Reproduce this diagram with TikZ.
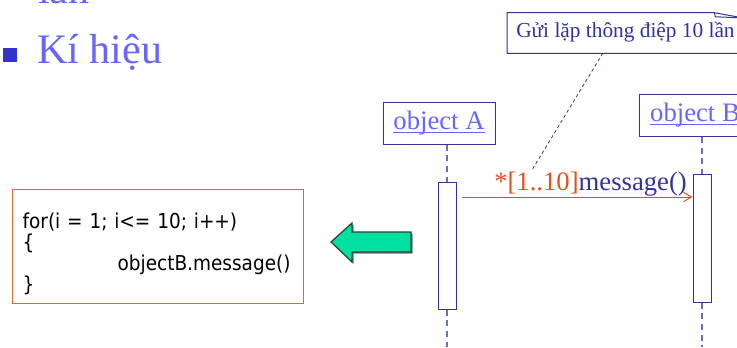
\documentclass[tikz,border=0pt]{standalone}
\usepackage{fontspec}
\setmainfont{Liberation Serif}
\newfontfamily\codefont[FakeStretch=0.9]{DejaVu Sans}
\usetikzlibrary{arrows.meta,positioning,calc,shadows}
\definecolor{headblue}{RGB}{102,102,255}
\definecolor{bulletblue}{RGB}{51,51,204}
\definecolor{noteblue}{RGB}{51,51,153}
\definecolor{lifegray}{RGB}{110,110,190}
\definecolor{msgred}{RGB}{224,80,32}
\definecolor{codered}{RGB}{224,100,64}
\definecolor{arrowgreen}{RGB}{0,224,160}
\definecolor{arrowdark}{RGB}{30,70,55}
\newcommand\objname[1]{\setbox0\hbox{#1}\rlap{\rule[-2.6pt]{\wd0}{0.9pt}}#1}

\begin{document}
\begin{tikzpicture}[
        x=0.75pt, y=-0.75pt,
        bulletsq/.style={rectangle, fill=bulletblue, minimum size=10.5pt, inner sep=0pt},
        title/.style={text=headblue, font=\fontsize{31.5}{36}\selectfont, inner sep=0pt},
        notetext/.style={text=noteblue, font=\fontsize{16}{19}\selectfont, inner xsep=6.75pt, inner ysep=0pt, text height=18pt, text depth=12pt},
        noteline/.style={draw=noteblue, line width=0.75pt},
        notelink/.style={draw=noteblue, line width=0.6pt, dash pattern=on 2.5pt off 2pt},
        objbox/.style={rectangle, draw=noteblue, line width=0.75pt, fill=white, minimum width=84pt, minimum height=31.5pt, text=headblue, font=\fontsize{20}{24}\selectfont},
        activation/.style={rectangle, draw=noteblue, line width=0.75pt, fill=white, minimum width=13.5pt, inner sep=0pt},
        lifeline/.style={draw=lifegray, line width=1pt, dash pattern=on 4.5pt off 3.5pt},
        msg/.style={-{Straight Barb[length=6pt,width=7pt]}, draw=msgred, line width=0.75pt},
        msglabel/.style={font=\fontsize{20}{24}\selectfont, inner sep=0pt},
        codebox/.style={rectangle, draw=codered, line width=0.9pt, fill=white, text width=203.25pt, align=left, inner xsep=7.5pt, inner ysep=3pt, font=\codefont\fontsize{15.4}{15.75}\selectfont},
        bigarrow/.style={draw=arrowdark, line width=0.9pt, fill=arrowgreen, drop shadow={shadow xshift=1.2pt, shadow yshift=-1.2pt, fill=black!55, opacity=1}}
    ]
    \useasboundingbox[fill=white] (0,0) rectangle (737,347);

    \node[title, anchor=base west] (prevline) at (38,3) {lần};
    \node[bulletsq] (bullet) at (10,55) {};
    \node[title, anchor=base west] (kihieu) at (37,63) {Kí hiệu};

    \node[notetext, anchor=base west] (note) at (507,37) {Gửi lặp thông điệp 10 lần};
    \draw[noteline] (note.north west) -- ([xshift=-22pt]note.north east) -- ([yshift=-4pt]note.north east) -- (note.south east) -- (note.south west) -- cycle;
    \draw[noteline] ([xshift=-22pt]note.north east) -- ([xshift=-21.5pt,yshift=-3pt]note.north east) -- ([yshift=-4pt]note.north east);

    \node[objbox] (objA) at (439,123) {\objname{object A}};
    \node[objbox] (objB) at (695,115.5) {\objname{object B}};

    \node[activation, minimum height=95.25pt] (actA) at (447,245.5) {};
    \node[activation, minimum height=96pt] (actB) at (702,238) {};
    \coordinate (endA) at (447,347);
    \coordinate (endB) at (702,347);

    \draw[lifeline] (objA.south -| actA) -- (actA.north);
    \draw[lifeline] (actA.south) -- (endA);
    \draw[lifeline] (objB.south -| actB) -- (actB.north);
    \draw[lifeline] (actB.south) -- (endB);

    \coordinate (msgstart) at (462,197);
    \draw[msg] (msgstart) -- (msgstart -| actB.west);
    \node[msglabel, anchor=base west] (msglbl) at (494,190) {\textcolor{msgred}{*[1..10]}\textcolor{noteblue}{message()}};

    \coordinate (notetip) at (532,170);
    \draw[notelink] ([xshift=-17pt]note.south) -- (notetip);

    \node[codebox, anchor=north west] (code) at (12,189) {\rule{0pt}{26.25pt}for(i = 1; i<= 10; i++)\\
        \{\\
        \hspace*{71.25pt}\mbox{objectB.message()}\\
        \}\rule[-6pt]{0pt}{6pt}};

    \draw[bigarrow] (331,242) -- (352,223) -- (352,232) -- (411,232) -- (411,252) -- (352,252) -- (352,262) -- cycle;
\end{tikzpicture}
\end{document}
